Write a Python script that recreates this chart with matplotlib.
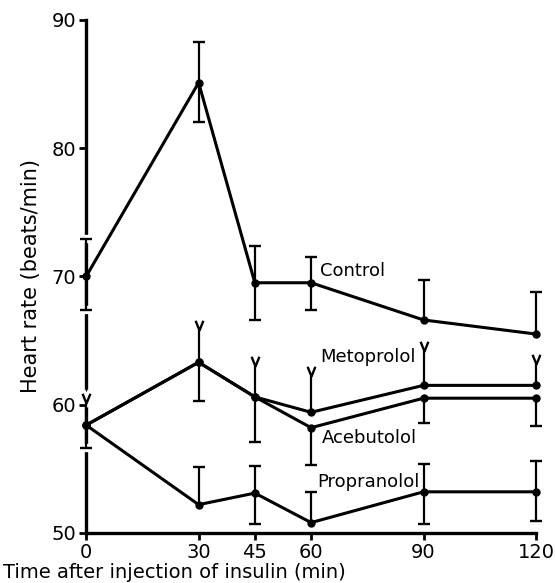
import numpy as np
import matplotlib
matplotlib.use('Agg')
import matplotlib.pyplot as plt
from matplotlib.path import Path

# time after injection (min)
times = [0, 30, 45, 60, 90, 120]

# mean heart rate and error bar ends (nan = not drawn)
control = [70.0, 85.1, 69.5, 69.5, 66.6, 65.5]
control_hi = [72.9, 88.3, 72.4, 71.5, 69.7, 68.8]
control_lo = [67.4, 82.0, 66.6, 67.4, np.nan, np.nan]

metoprolol = [58.4, 63.3, 60.6, 59.4, 61.5, 61.5]
metoprolol_hi = [60.1, 65.8, 63.0, 62.2, 64.2, 63.2]

acebutolol = [58.4, 63.3, 60.6, 58.2, 60.5, 60.5]
acebutolol_lo = [56.6, 60.3, 57.1, 55.3, 58.6, 58.3]

propranolol = [58.4, 52.2, 53.1, 50.8, 53.2, 53.2]
propranolol_hi = [np.nan, 55.1, 55.2, 53.15, 55.4, 55.6]
propranolol_lo = [np.nan, np.nan, 50.7, np.nan, 50.7, 50.9]

xticks = [0, 30, 45, 60, 90, 120]
yticks = [50, 60, 70, 80, 90]

plt.rcParams['font.family'] = 'DejaVu Sans'

fig = plt.figure(figsize=(5.56, 5.83), dpi=100)
ax = fig.add_axes([0.155, 0.086, 0.809, 0.88])

# Y shaped cap: V opening upwards, origin at its vertex
vcap = Path([(-0.4, 1.0), (0, 0), (0.4, 1.0)],
            [Path.MOVETO, Path.LINETO, Path.LINETO])


def bars(y, ends, cap):
    for xi, yi, ei in zip(times, y, ends):
        if np.isnan(ei):
            continue
        mk = vcap if cap == 'v' else '_'
        ms = 14 if cap == 'v' else 9
        if xi == 0:
            # white backing so the bar cuts through the y axis line
            ax.plot([xi], [ei], marker=mk, ms=ms + 4, mfc='none',
                    mec='white', mew=6, zorder=2.55, clip_on=False)
        ax.plot([xi, xi], [yi, ei], color='black', lw=1.6, zorder=2.6,
                solid_capstyle='butt', clip_on=False)
        ax.plot([xi], [ei], marker=mk, ms=ms, mfc='none', mec='black',
                mew=1.7, zorder=2.6, clip_on=False)


bars(control, control_hi, 't')
bars(control, control_lo, 't')
bars(metoprolol, metoprolol_hi, 'v')
bars(acebutolol, acebutolol_lo, 't')
bars(propranolol, propranolol_hi, 't')
bars(propranolol, propranolol_lo, 't')

for y in (control, metoprolol, acebutolol, propranolol):
    ax.plot(times, y, color='black', lw=2.2, marker='o', ms=5, zorder=3,
            clip_on=False)

ax.text(62.4, 70.4, 'Control', fontsize=13, va='center')
ax.text(62.4, 63.7, 'Metoprolol', fontsize=13, va='center')
ax.text(63.0, 57.4, 'Acebutolol', fontsize=13, va='center')
ax.text(61.6, 54.0, 'Propranolol', fontsize=13, va='center')

ax.set_xlim(0, 120)
ax.set_ylim(50, 90)
ax.set_xticks(xticks)
ax.set_yticks(yticks)
ax.tick_params(labelsize=14, width=2, length=5, direction='out', pad=2)
ax.spines[['top', 'right']].set_visible(False)
ax.spines[['left', 'bottom']].set_linewidth(2.4)
ax.xaxis.set_zorder(5)
ax.yaxis.set_zorder(5)

ax.set_ylabel('Heart rate (beats/min)', fontsize=15, labelpad=8)
fig.text(0.005, 0.002, 'Time after injection of insulin (min)', fontsize=14,
         ha='left', va='bottom')

fig.savefig('out.png', dpi=100)
